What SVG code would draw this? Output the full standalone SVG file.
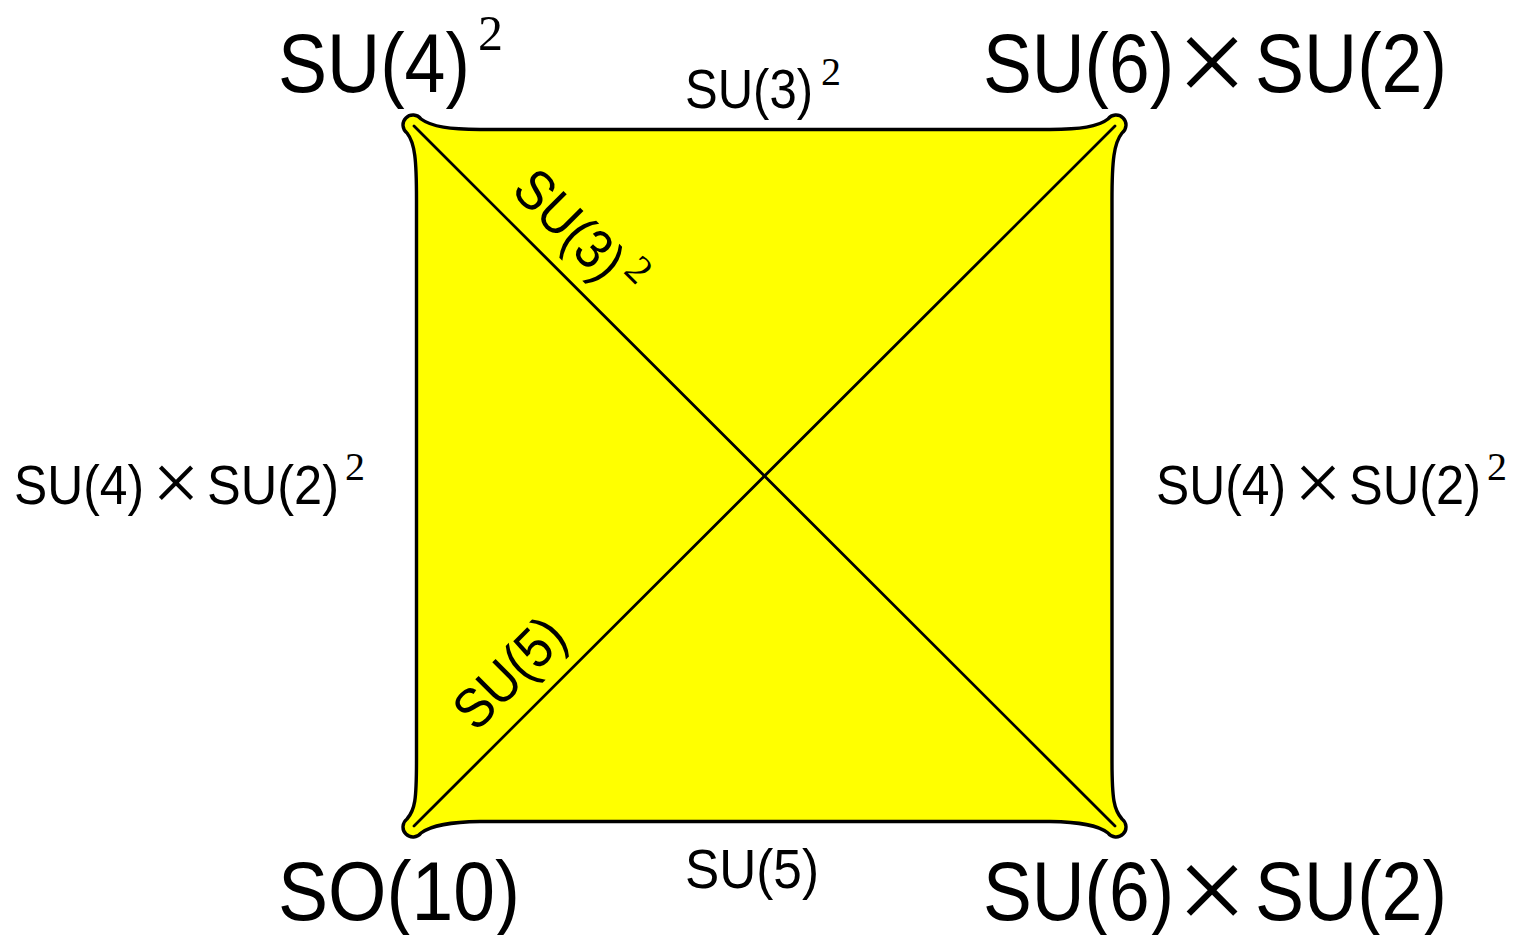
<svg xmlns="http://www.w3.org/2000/svg" width="1528" height="935" viewBox="0 0 1528 935">
<style>
.s{font-family:"Liberation Sans",Arial,sans-serif;fill:#000}
.m{font-family:"Liberation Serif","Times New Roman",serif;fill:#000}
.x{font-family:"Liberation Serif","Times New Roman",serif;fill:#000;text-anchor:middle}
.ln{stroke:#000;stroke-width:2.8;fill:none;stroke-linecap:round}
</style>
<g id="face">
<path d="M 421,119 C 432,127 450,129 480,129.5 L 1050,129.5 C 1080,129 1098,127 1108,119 A 10,10 0 1 1 1122,133 C 1114,143 1112,160 1112,200 L 1112,760 C 1112,800 1114,810 1122,819 A 10,10 0 1 1 1108,833 C 1098,825 1080,822 1050,821.5 L 480,821.5 C 450,822 432,825 421,833 A 10,10 0 1 1 407,819 C 415,810 416.5,800 416.5,760 L 416.5,200 C 416.5,160 415,143 407,133 A 10,10 0 1 1 421,119 Z" fill="#ffff00" stroke="#000" stroke-width="3.4" stroke-linejoin="round"/>
</g>
<g id="connectors">
<line class="ln" x1="414" y1="126" x2="1115" y2="826"/>
<line class="ln" x1="1115" y1="126" x2="414" y2="826"/>
</g>
<g id="node-tl">
<text class="s" x="278" y="92" font-size="84" textLength="192" lengthAdjust="spacingAndGlyphs">SU(4)</text>
<text class="m" x="478" y="50" font-size="50">2</text>
</g>
<g id="node-tr">
<text class="s" x="983" y="92" font-size="84" textLength="191" lengthAdjust="spacingAndGlyphs">SU(6)</text>
<text class="x" x="1212" y="104" font-size="125">×</text>
<text class="s" x="1255" y="92" font-size="84" textLength="192" lengthAdjust="spacingAndGlyphs">SU(2)</text>
</g>
<g id="node-bl">
<text class="s" x="278" y="920" font-size="84" textLength="242" lengthAdjust="spacingAndGlyphs">SO(10)</text>
</g>
<g id="node-br">
<text class="s" x="983" y="920" font-size="84" textLength="191" lengthAdjust="spacingAndGlyphs">SU(6)</text>
<text class="x" x="1212" y="932" font-size="125">×</text>
<text class="s" x="1255" y="920" font-size="84" textLength="192" lengthAdjust="spacingAndGlyphs">SU(2)</text>
</g>
<g id="edge-top">
<text class="s" x="685" y="108" font-size="56" textLength="128" lengthAdjust="spacingAndGlyphs">SU(3)</text>
<text class="m" x="821" y="85" font-size="40">2</text>
</g>
<g id="edge-bottom">
<text class="s" x="685" y="888" font-size="56" textLength="134" lengthAdjust="spacingAndGlyphs">SU(5)</text>
</g>
<g id="edge-left">
<text class="s" x="14" y="504" font-size="56" textLength="130" lengthAdjust="spacingAndGlyphs">SU(4)</text>
<text class="x" x="176" y="511" font-size="84">×</text>
<text class="s" x="207" y="504" font-size="56" textLength="132" lengthAdjust="spacingAndGlyphs">SU(2)</text>
<text class="m" x="345" y="480" font-size="40">2</text>
</g>
<g id="edge-right">
<text class="s" x="1156" y="504" font-size="56" textLength="130" lengthAdjust="spacingAndGlyphs">SU(4)</text>
<text class="x" x="1318" y="511" font-size="84">×</text>
<text class="s" x="1349" y="504" font-size="56" textLength="132" lengthAdjust="spacingAndGlyphs">SU(2)</text>
<text class="m" x="1487" y="480" font-size="40">2</text>
</g>
<g id="diag-label-1" transform="translate(510,192) rotate(45)">
<text class="s" x="0" y="0" font-size="56" textLength="130" lengthAdjust="spacingAndGlyphs">SU(3)</text>
<text class="m" x="136" y="-23" font-size="40">2</text>
</g>
<g id="diag-label-2" transform="translate(476,733) rotate(-45)">
<text class="s" x="0" y="0" font-size="56" textLength="132" lengthAdjust="spacingAndGlyphs">SU(5)</text>
</g>
</svg>
